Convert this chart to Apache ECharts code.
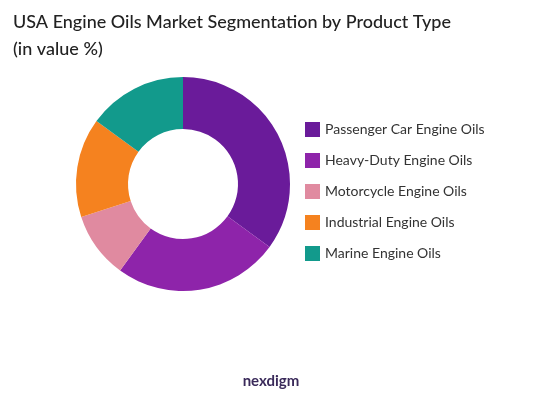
<!DOCTYPE html>
<html><head><meta charset="utf-8">
<script src="https://cdn.jsdelivr.net/npm/echarts@6/dist/echarts.min.js"></script>
<style>html,body{margin:0;padding:0;background:#fff}#c{width:542px;height:404px}</style>
</head><body><div id="c"></div>
<script>
const categories = ["Passenger Car Engine Oils","Heavy-Duty Engine Oils","Motorcycle Engine Oils","Industrial Engine Oils","Marine Engine Oils"];
const values = [35, 25, 10, 15, 15];
const colors = ["#6a1b9a","#8e24aa","#e08aa0","#f5821f","#129a8c"];
const chart = echarts.init(document.getElementById('c'));
chart.setOption({
  title: {text: "USA Engine Oils Market Segmentation by Product Type\n(in value %)", left: 8, top: 4,
    textStyle: {fontFamily: "Lato", fontSize: 18, fontWeight: 500, color: "#222", lineHeight: 27}},
  legend: {orient: 'vertical', left: 300, top: 117, itemGap: 16, itemWidth: 15, itemHeight: 15, icon: 'rect',
    textStyle: {fontFamily: "Lato", fontSize: 14, color: "#333"}},
  graphic: [{type: 'text', left: 'center', top: 374, style: {text: "nexdigm", fill: "#3a2a5a", font: "bold 15px Lato"}}],
  series: [{type: 'pie', center: [183, 184], radius: [55, 107], startAngle: 90, clockwise: true,
    label: {show: false}, labelLine: {show: false},
    data: categories.map((n, i) => ({name: n, value: values[i], itemStyle: {color: colors[i]}}))}]
});
</script></body></html>
